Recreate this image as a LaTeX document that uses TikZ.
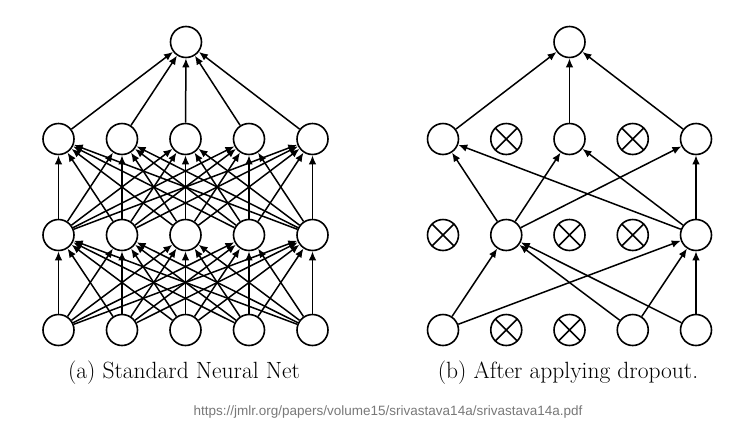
\documentclass[tikz,border=0pt]{standalone}
\usepackage{fontspec}
\usepackage{tikz}
\usetikzlibrary{arrows.meta}
\newfontfamily\urlfont{Liberation Sans}
\definecolor{urlgray}{RGB}{120,120,120}

\begin{document}
\begin{tikzpicture}[
    x=1pt, y=-1pt,
    neuron/.style={circle, draw, line width=1.6pt,
                   minimum size=31pt, inner sep=0pt},
    dropped/.style={neuron, path picture={
        \draw[line width=1.6pt]
            (path picture bounding box.north west) -- (path picture bounding box.south east)
            (path picture bounding box.north east) -- (path picture bounding box.south west);}},
    conn/.style={-{Latex[length=9pt, width=7.5pt]}, line width=1.5pt},
    caption/.style={anchor=base, font=\fontsize{23.5}{28}\selectfont},
    srcurl/.style={anchor=base, text=urlgray, font=\urlfont\fontsize{13.5}{16}\selectfont}
]
\useasboundingbox (0,0) rectangle (739,445);

% (a) Standard net
\foreach \i in {1,...,5} {
    \node[neuron] (sin\i) at ({-5+63.5*\i},330) {};
    \node[neuron] (sha\i) at ({-5+63.5*\i},235) {};
    \node[neuron] (shb\i) at ({-5+63.5*\i},139) {};
}
\node[neuron] (sout) at (186,42) {};

\foreach \i in {1,...,5} {
    \foreach \j in {1,...,5} {
        \draw[conn] (sin\i) -- (sha\j);
        \draw[conn] (sha\i) -- (shb\j);
    }
    \draw[conn] (shb\i) -- (sout);
}

% (b) Thinned net
\foreach \i/\st in {1/neuron,2/dropped,3/dropped,4/neuron,5/neuron}
    \node[\st] (din\i) at ({379.75+63.25*\i},330) {};
\foreach \i/\st in {1/dropped,2/neuron,3/dropped,4/dropped,5/neuron}
    \node[\st] (dha\i) at ({379.75+63.25*\i},235) {};
\foreach \i/\st in {1/neuron,2/dropped,3/neuron,4/dropped,5/neuron}
    \node[\st] (dhb\i) at ({379.75+63.25*\i},139) {};
\node[neuron] (dout) at (569.5,42) {};

\foreach \i in {1,4,5}
    \foreach \j in {2,5}
        \draw[conn] (din\i) -- (dha\j);
\foreach \i in {2,5}
    \foreach \j in {1,3,5}
        \draw[conn] (dha\i) -- (dhb\j);
\foreach \i in {1,3,5}
    \draw[conn] (dhb\i) -- (dout);

% Captions
\node[caption] (capa) at (184,378) {(a) Standard Neural Net};
\node[caption] (capb) at (568,378) {(b) After applying dropout.};
\node[srcurl] (src) at (388,415) {https://jmlr.org/papers/volume15/srivastava14a/srivastava14a.pdf};

\end{tikzpicture}
\end{document}
